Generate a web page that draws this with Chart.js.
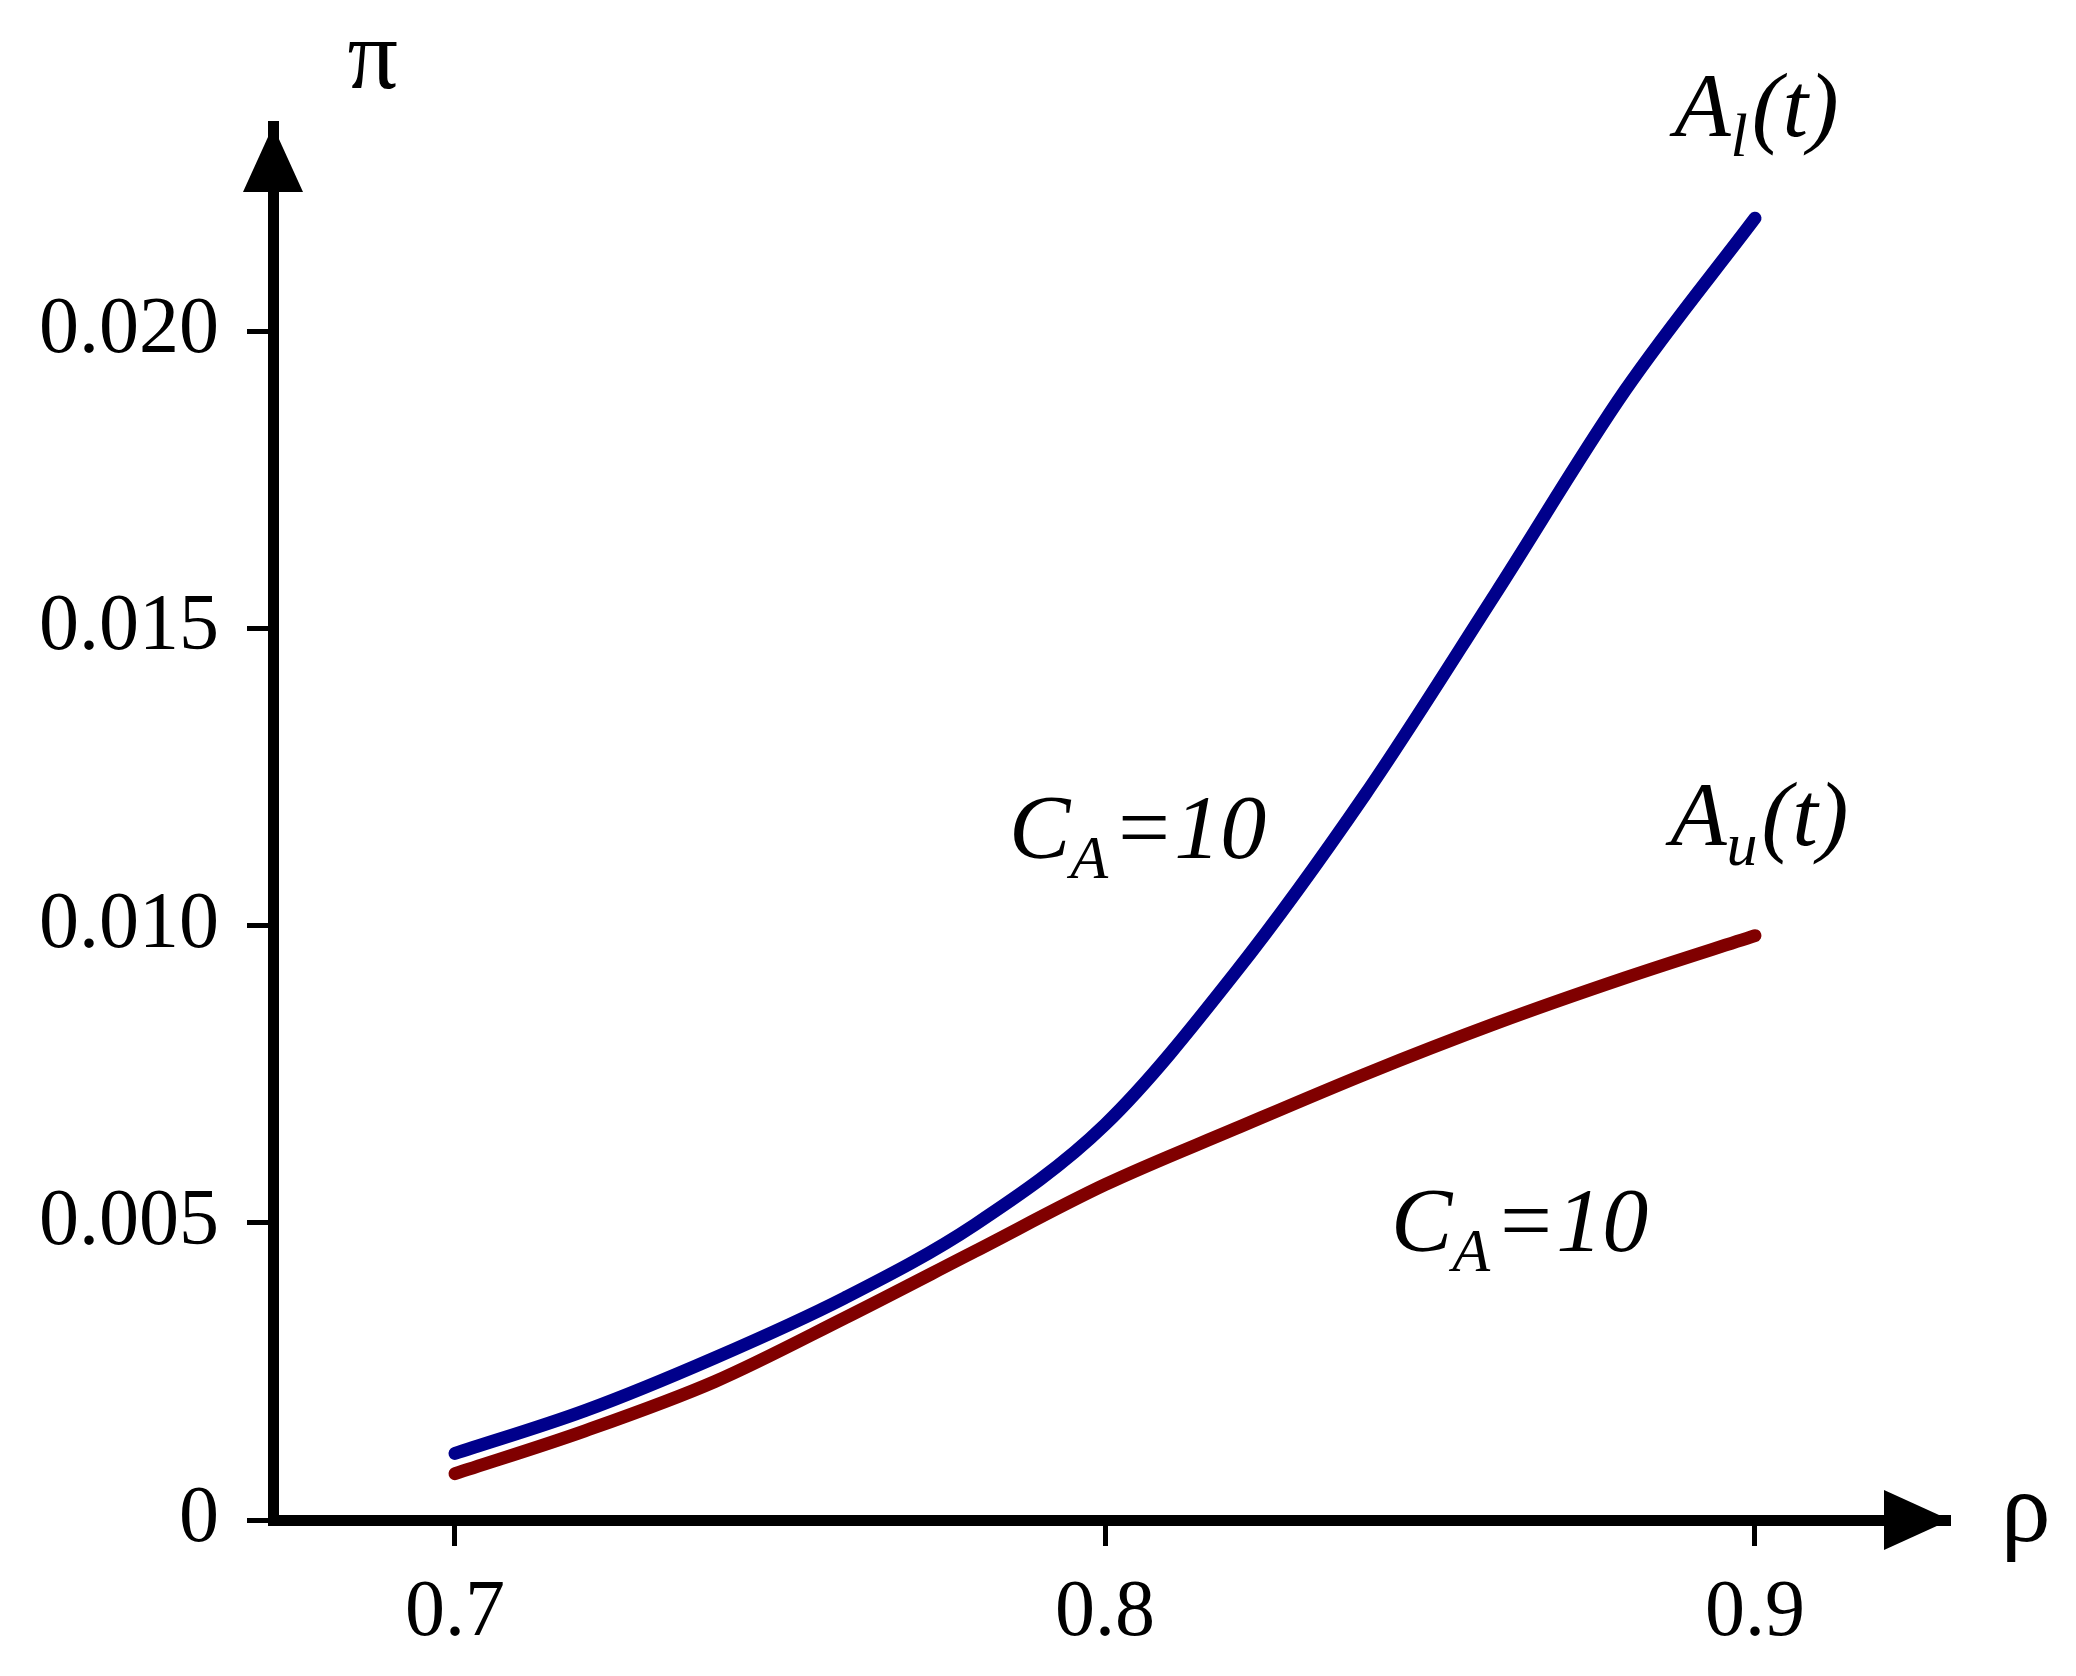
<!DOCTYPE html>
<html><head><meta charset="utf-8">
<script src="https://cdn.jsdelivr.net/npm/chart.js@4"></script>
<style>body{margin:0;background:#fff}</style>
</head><body>
<canvas id="c" width="2076" height="1676"></canvas>
<script>
// data
const rho = [0.70, 0.72, 0.74, 0.76, 0.78, 0.80, 0.82, 0.84, 0.86, 0.88, 0.90];
const upperA = [0.00112, 0.00184, 0.00273, 0.00374, 0.00497, 0.00665, 0.0092, 0.0122, 0.01557, 0.0190, 0.0219];
const lowerA = [0.00078, 0.0015, 0.00233, 0.0034, 0.00452, 0.00564, 0.00658, 0.0075, 0.00835, 0.00912, 0.00983];
const xTicks = [0.7, 0.8, 0.9];
const yTicks = [0, 0.005, 0.010, 0.015, 0.020];

const S = 1.331;
const serif = '"Liberation Serif", "DejaVu Serif", serif';

const decor = {
  id: 'decor',
  afterDraw(chart) {
    const c = chart.ctx, a = chart.chartArea;
    c.save();
    c.fillStyle = '#000';
    // arrow heads
    c.beginPath();
    c.moveTo(a.left, a.top);
    c.lineTo(a.left - 30, a.top + 66);
    c.lineTo(a.left + 30, a.top + 66);
    c.closePath(); c.fill();
    c.beginPath();
    c.moveTo(a.right, a.bottom);
    c.lineTo(a.right - 66, a.bottom - 30);
    c.lineTo(a.right - 66, a.bottom + 30);
    c.closePath(); c.fill();
    // axis names
    c.font = `100px ${serif}`;
    c.textAlign = 'center'; c.textBaseline = 'alphabetic';
    c.fillText('π', 280 * S, 66 * S);
    c.fillText('ρ', 1522 * S, 1158 * S);
    // curve labels
    const lab = (main, sub, rest, x, y) => {
      c.textAlign = 'left';
      c.font = `italic 92px ${serif}`;
      c.fillText(main, x, y);
      let w = c.measureText(main).width;
      c.font = `italic 62px ${serif}`;
      c.fillText(sub, x + w, y + 20);
      w += c.measureText(sub).width + 4;
      c.font = `italic 92px ${serif}`;
      c.fillText(rest, x + w, y);
    };
    lab('A', 'l', '(t)', 1258 * S, 102 * S);
    lab('A', 'u', '(t)', 1255 * S, 635 * S);
    lab('C', 'A', '=10', 758 * S, 645 * S);
    lab('C', 'A', '=10', 1045 * S, 940 * S);
    c.restore();
  }
};

new Chart(document.getElementById('c'), {
  type: 'line',
  data: {
    datasets: [
      { data: rho.map((x, i) => ({ x, y: upperA[i] })), borderColor: '#00008B', borderWidth: 13, pointRadius: 0, cubicInterpolationMode: 'monotone', borderCapStyle: 'round' },
      { data: rho.map((x, i) => ({ x, y: lowerA[i] })), borderColor: '#800000', borderWidth: 13, pointRadius: 0, cubicInterpolationMode: 'monotone', borderCapStyle: 'round' }
    ]
  },
  options: {
    responsive: false, animation: false, devicePixelRatio: 1,
    layout: { padding: { left: 0, top: 126, right: 126, bottom: 0 } },
    plugins: { legend: { display: false }, tooltip: { enabled: false } },
    scales: {
      x: {
        type: 'linear', min: 0.672, max: 0.93,
        afterBuildTicks: s => { s.ticks = xTicks.map(v => ({ value: v })); },
        afterFit: s => { s.height = 156; },
        border: { display: true, color: '#000', width: 11 },
        grid: { drawOnChartArea: false, drawTicks: true, tickLength: 26, tickWidth: 5, color: '#000' },
        ticks: { color: '#000', padding: 20, font: { family: serif, size: 80 }, callback: v => v.toFixed(1) }
      },
      y: {
        min: 0, max: 0.02345,
        afterBuildTicks: s => { s.ticks = yTicks.map(v => ({ value: v })); },
        afterFit: s => { s.width = 273; },
        border: { display: true, color: '#000', width: 11 },
        grid: { drawOnChartArea: false, drawTicks: true, tickLength: 26, tickWidth: 5, color: '#000' },
        ticks: { color: '#000', padding: 28, font: { family: serif, size: 80 }, callback: v => v === 0 ? '0' : v.toFixed(3) }
      }
    }
  },
  plugins: [decor]
});
</script>
</body></html>
